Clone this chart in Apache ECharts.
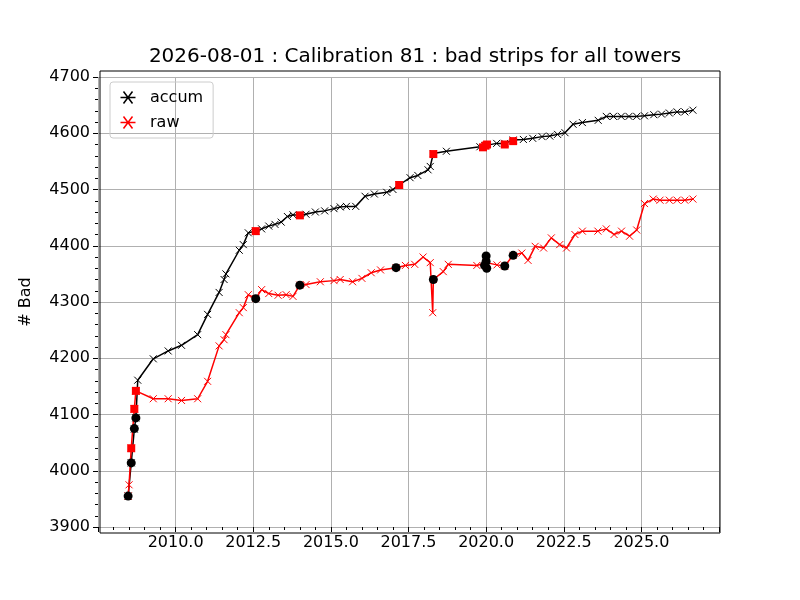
<!DOCTYPE html>
<html><head><meta charset="utf-8">
<script src="https://cdn.jsdelivr.net/npm/echarts@6/dist/echarts.min.js"></script>
<style>html,body{margin:0;padding:0;background:#fff}#c{width:800px;height:600px}</style>
</head><body><div id="c"></div>
<script>
const accumX=[2008.47,2008.57,2008.67,2008.72,2008.78,2009.28,2009.76,2010.19,2010.71,2011.03,2011.4,2011.56,2011.62,2012.05,2012.18,2012.34,2012.58,2012.77,2013.0,2013.2,2013.4,2013.6,2013.78,2014.0,2014.2,2014.5,2014.8,2015.1,2015.3,2015.5,2015.8,2016.1,2016.4,2016.8,2017.0,2017.2,2017.55,2017.8,2018.13,2018.2,2018.3,2018.72,2019.8,2019.96,2020.34,2020.6,2020.87,2021.2,2021.5,2021.8,2022.05,2022.3,2022.54,2022.8,2023.1,2023.61,2023.87,2024.1,2024.35,2024.6,2024.85,2025.1,2025.4,2025.65,2025.9,2026.15,2026.4,2026.66];
const accumY=[3955,4014,4074,4094,4161,4199,4213,4223,4242,4278,4317,4340,4350,4392,4402,4423,4426,4430,4435,4438,4442,4452,4455,4454,4456,4460,4462,4466,4469,4470,4470,4488,4492,4495,4500,4508,4521,4525,4535,4541,4564,4568,4576,4578,4582,4582,4588,4589,4591,4594,4595,4598,4601,4616,4619,4623,4630,4630,4630,4630,4630,4631,4633,4634,4636,4638,4638,4641];
const rawX=[2008.47,2008.5,2008.57,2008.67,2008.72,2009.28,2009.76,2010.19,2010.71,2011.03,2011.4,2011.56,2011.62,2012.05,2012.18,2012.34,2012.58,2012.77,2013.0,2013.3,2013.56,2013.78,2014.0,2014.2,2014.66,2015.1,2015.3,2015.7,2016.0,2016.3,2016.6,2017.1,2017.4,2017.7,2017.97,2018.2,2018.28,2018.3,2018.62,2018.78,2019.7,2020.0,2020.35,2020.6,2020.87,2021.15,2021.35,2021.58,2021.85,2022.1,2022.37,2022.59,2022.86,2023.1,2023.6,2023.87,2024.12,2024.36,2024.62,2024.85,2025.1,2025.38,2025.6,2025.9,2026.15,2026.4,2026.66];
const rawY=[3955,3975,4040,4110,4142,4128,4128,4125,4128,4159,4222,4233,4242,4281,4290,4313,4306,4322,4315,4312,4313,4310,4330,4331,4336,4338,4340,4336,4342,4352,4357,4361,4365,4367,4380,4370,4281,4340,4354,4367,4365,4370,4366,4364,4383,4387,4374,4399,4396,4414,4402,4396,4420,4426,4426,4430,4420,4426,4417,4428,4475,4483,4481,4481,4481,4481,4483];
const dotX=[2008.47,2008.57,2008.67,2008.72,2012.58,2014.0,2017.1,2018.3,2019.95,2020.0,2020.0,2020.02,2020.6,2020.87];
const dotY=[3955,4014,4075,4094,4306,4330,4361,4340,4365,4382,4372,4360,4364,4383];
const sqX=[2008.57,2008.67,2008.72,2012.58,2014.0,2017.2,2018.3,2019.9,2019.98,2020.03,2020.6,2020.87];
const sqY=[4040,4110,4142,4426,4454,4508,4563,4575,4578,4580,4580,4586];
const xTicks=[2010,2012.5,2015,2017.5,2020,2022.5,2025];
const zip=(a,b)=>a.map((v,i)=>[v,b[i]]);
const F='DejaVu Sans';
const ch=echarts.init(document.getElementById('c'));
const icon='path://M0,5L10,5M2,1L8,9M2,9L8,1';
ch.setOption({
 animation:false,
 title:{text:'2026-08-01 : Calibration 81 : bad strips for all towers',left:410,top:42,textAlign:'center',textStyle:{fontFamily:F,fontSize:20,fontWeight:'normal',color:'#000'}},
 legend:{left:110,top:82,orient:'vertical',itemGap:8,itemWidth:34,itemHeight:12,padding:[7,10,7,8],borderColor:'#ccc',borderWidth:1,borderRadius:3,
   textStyle:{fontFamily:F,fontSize:16,color:'#000'},
   data:[{name:'accum',icon:icon,itemStyle:{color:'none',borderColor:'#000',borderWidth:1.5}},
         {name:'raw',icon:icon,itemStyle:{color:'none',borderColor:'#f00',borderWidth:1.5}}]},
 grid:{left:98,right:81,top:77,bottom:73},
 xAxis:{type:'value',min:2007.5,max:2027.5,interval:2.5,
   axisLine:{show:false},axisTick:{show:true,length:5,inside:false,lineStyle:{color:'#000'}},
   minorTick:{show:true,splitNumber:5,length:3,lineStyle:{color:'#000'}},
   splitLine:{show:true,lineStyle:{color:'#b0b0b0',width:1}},
   axisLabel:{fontFamily:F,fontSize:16,color:'#000',margin:8,formatter:v=>xTicks.includes(v)?v.toFixed(1):''}},
 yAxis:{type:'value',min:3900,max:4700,interval:100,name:'# Bad',nameLocation:'middle',nameGap:64,nameTextStyle:{fontFamily:F,fontSize:16,color:'#000'},
   axisLine:{show:false},axisTick:{show:true,length:5,lineStyle:{color:'#000'}},
   minorTick:{show:true,splitNumber:5,length:3,lineStyle:{color:'#000'}},
   splitLine:{show:true,lineStyle:{color:'#b0b0b0',width:1}},
   axisLabel:{fontFamily:F,fontSize:16,color:'#000',margin:8,formatter:v=>String(v)}},
 graphic:[{type:'rect',shape:{x:100,y:71,width:620,height:462},style:{fill:'none',stroke:'#000',lineWidth:1},z:100}],
 series:[
  {name:'accum',type:'line',data:zip(accumX,accumY),lineStyle:{width:1.5,color:'#000'},symbol:'path://M0,0L10,10M0,10L10,0',symbolSize:7,itemStyle:{color:'#000',borderColor:'#000',borderWidth:1},clip:false},
  {name:'raw',type:'line',data:zip(rawX,rawY),lineStyle:{width:1.5,color:'#f00'},symbol:'path://M0,0L10,10M0,10L10,0',symbolSize:7,itemStyle:{color:'#f00',borderColor:'#f00',borderWidth:1},clip:false},
  {name:'dots',type:'scatter',data:zip(dotX,dotY),symbol:'circle',symbolSize:9,itemStyle:{color:'#000',opacity:1},z:5},
  {name:'squares',type:'scatter',data:zip(sqX,sqY),symbol:'rect',symbolSize:8,itemStyle:{color:'#f00',opacity:1},z:5}
 ]
});
</script></body></html>
